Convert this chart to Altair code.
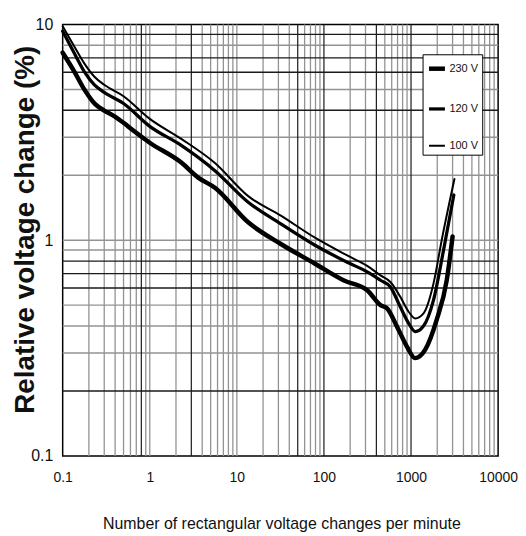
import altair as alt
import pandas as pd

# ---- data ----
series_names = ["230 V", "120 V", "100 V"]

x_230 = [0.1, 0.136, 0.177, 0.236, 0.30, 0.39, 0.50, 0.63, 1.0, 2.3, 3.6, 5.6, 13.5, 32, 78, 170, 314, 446, 531, 691, 898, 1110, 1450, 1970, 2570, 3000]
y_230 = [7.4, 6.05, 5.0, 4.27, 3.99, 3.76, 3.5, 3.25, 2.83, 2.29, 1.95, 1.75, 1.21, 0.96, 0.78, 0.65, 0.586, 0.50, 0.483, 0.397, 0.321, 0.284, 0.31, 0.427, 0.652, 1.04]

x_120 = [0.1, 0.136, 0.177, 0.23, 0.30, 0.50, 1.0, 2.3, 5.6, 13.5, 32, 78, 185, 314, 446, 580, 754, 939, 1117, 1392, 1811, 2357, 3100]
y_120 = [9.3, 7.35, 6.05, 5.26, 4.84, 4.3, 3.37, 2.75, 2.1, 1.50, 1.19, 0.95, 0.79, 0.713, 0.652, 0.607, 0.49, 0.412, 0.377, 0.40, 0.527, 0.895, 1.62]

x_100 = [0.1, 0.136, 0.177, 0.23, 0.30, 0.50, 1.0, 2.3, 5.6, 13.5, 32, 78, 185, 314, 446, 580, 754, 939, 1117, 1392, 1811, 2250, 3150]
y_100 = [9.8, 7.9, 6.6, 5.74, 5.25, 4.65, 3.65, 2.95, 2.28, 1.6, 1.3, 1.03, 0.85, 0.76, 0.687, 0.64, 0.546, 0.466, 0.434, 0.458, 0.63, 1.0, 1.92]

x_ticks = [0.1, 1, 10, 100, 1000, 10000]
y_ticks = [0.1, 1, 10]

grid_x_dark = [0.8, 3, 50, 100, 400, 1000]
grid_x_light = [0.2, 0.3, 0.4, 0.5, 0.6, 0.7, 0.9, 1,
                2, 4, 5, 6, 7, 8, 9, 10,
                20, 30, 40, 60, 70, 80, 90,
                200, 300, 500, 600, 700, 800, 900,
                2000, 3000, 4000, 5000, 6000, 7000, 8000, 9000]
grid_y_dark = [9, 7, 6, 4, 0.8, 0.7, 0.6, 0.2]
grid_y_light = [8, 5, 3, 2, 1, 0.9, 0.5, 0.4, 0.3]

# ---- tables ----
rows = []
for name, xs, ys in [("230 V", x_230, y_230), ("120 V", x_120, y_120), ("100 V", x_100, y_100)]:
    for i, (a, b) in enumerate(zip(xs, ys)):
        rows.append({"series": name, "x": a, "y": b, "order": i})
df = pd.DataFrame(rows)

SANS = "Liberation Sans, Arial, sans-serif"

xscale = alt.Scale(type="log", domain=[0.1, 10000], nice=False)
yscale = alt.Scale(type="log", domain=[0.1, 10], nice=False)

xaxis = alt.Axis(values=x_ticks, format="~g", grid=False, ticks=False, domain=False,
                 labelFont=SANS, labelFontSize=14, labelColor="#111", labelPadding=15,
                 labelFlush=False, labelOverlap=False,
                 title="Number of rectangular voltage changes per minute",
                 titleFont=SANS, titleFontSize=16, titleFontWeight="normal", titleColor="#111",
                 titleX=220, titleY=73, titleBaseline="alphabetic")
yaxis = alt.Axis(values=y_ticks, format="~g", grid=False, ticks=False, domain=False,
                 labelFont=SANS, labelFontSize=16, labelColor="#111", labelPadding=10,
                 labelFlush=False, labelOverlap=False,
                 title="Relative voltage change (%)",
                 titleFont=SANS, titleFontSize=28, titleFontWeight="bold",
                 titleColor="#111", titleX=-29, titleY=206, titleBaseline="alphabetic",
                 titleAngle=270, titleAlign="center")

vlight = alt.Chart(pd.DataFrame({"v": grid_x_light})).mark_rule(color="#939393", strokeWidth=1.3).encode(
    x=alt.X("v:Q", scale=xscale, axis=xaxis))
vdark = alt.Chart(pd.DataFrame({"v": grid_x_dark})).mark_rule(color="#1a1a1a", strokeWidth=1.2).encode(
    x=alt.X("v:Q", scale=xscale, axis=xaxis))
hlight = alt.Chart(pd.DataFrame({"v": grid_y_light})).mark_rule(color="#939393", strokeWidth=1.5).encode(
    y=alt.Y("v:Q", scale=yscale, axis=yaxis))
hdark = alt.Chart(pd.DataFrame({"v": grid_y_dark})).mark_rule(color="#1a1a1a", strokeWidth=1.4).encode(
    y=alt.Y("v:Q", scale=yscale, axis=yaxis))

lines = alt.Chart(df).mark_line(color="black", interpolate="monotone", strokeJoin="round", strokeCap="round").encode(
    x=alt.X("x:Q", scale=xscale, axis=xaxis),
    y=alt.Y("y:Q", scale=yscale, axis=yaxis),
    strokeWidth=alt.StrokeWidth("series:N",
                                scale=alt.Scale(domain=series_names, range=[4.5, 2.0, 1.0]),
                                legend=alt.Legend(title=None, orient="none", legendX=362, legendY=30,
                                                  direction="vertical", symbolType="stroke", symbolSize=256,
                                                  symbolStrokeColor="black", labelFont=SANS, labelFontSize=11,
                                                  labelColor="#111", labelOffset=2, padding=4, rowPadding=21,
                                                  strokeColor="black", fillColor="white")),
    order="order:Q",
)

chart = alt.layer(vlight, hlight, vdark, hdark, lines).properties(
    width=438, height=434,
    autosize=alt.AutoSizeParams(type="none"),
    padding={"left": 55, "top": 15, "right": 20, "bottom": 78},
    background="white",
).configure_view(stroke="black", strokeWidth=1.5)

chart.save("out.html", embed_options={"renderer": "svg", "actions": False})
